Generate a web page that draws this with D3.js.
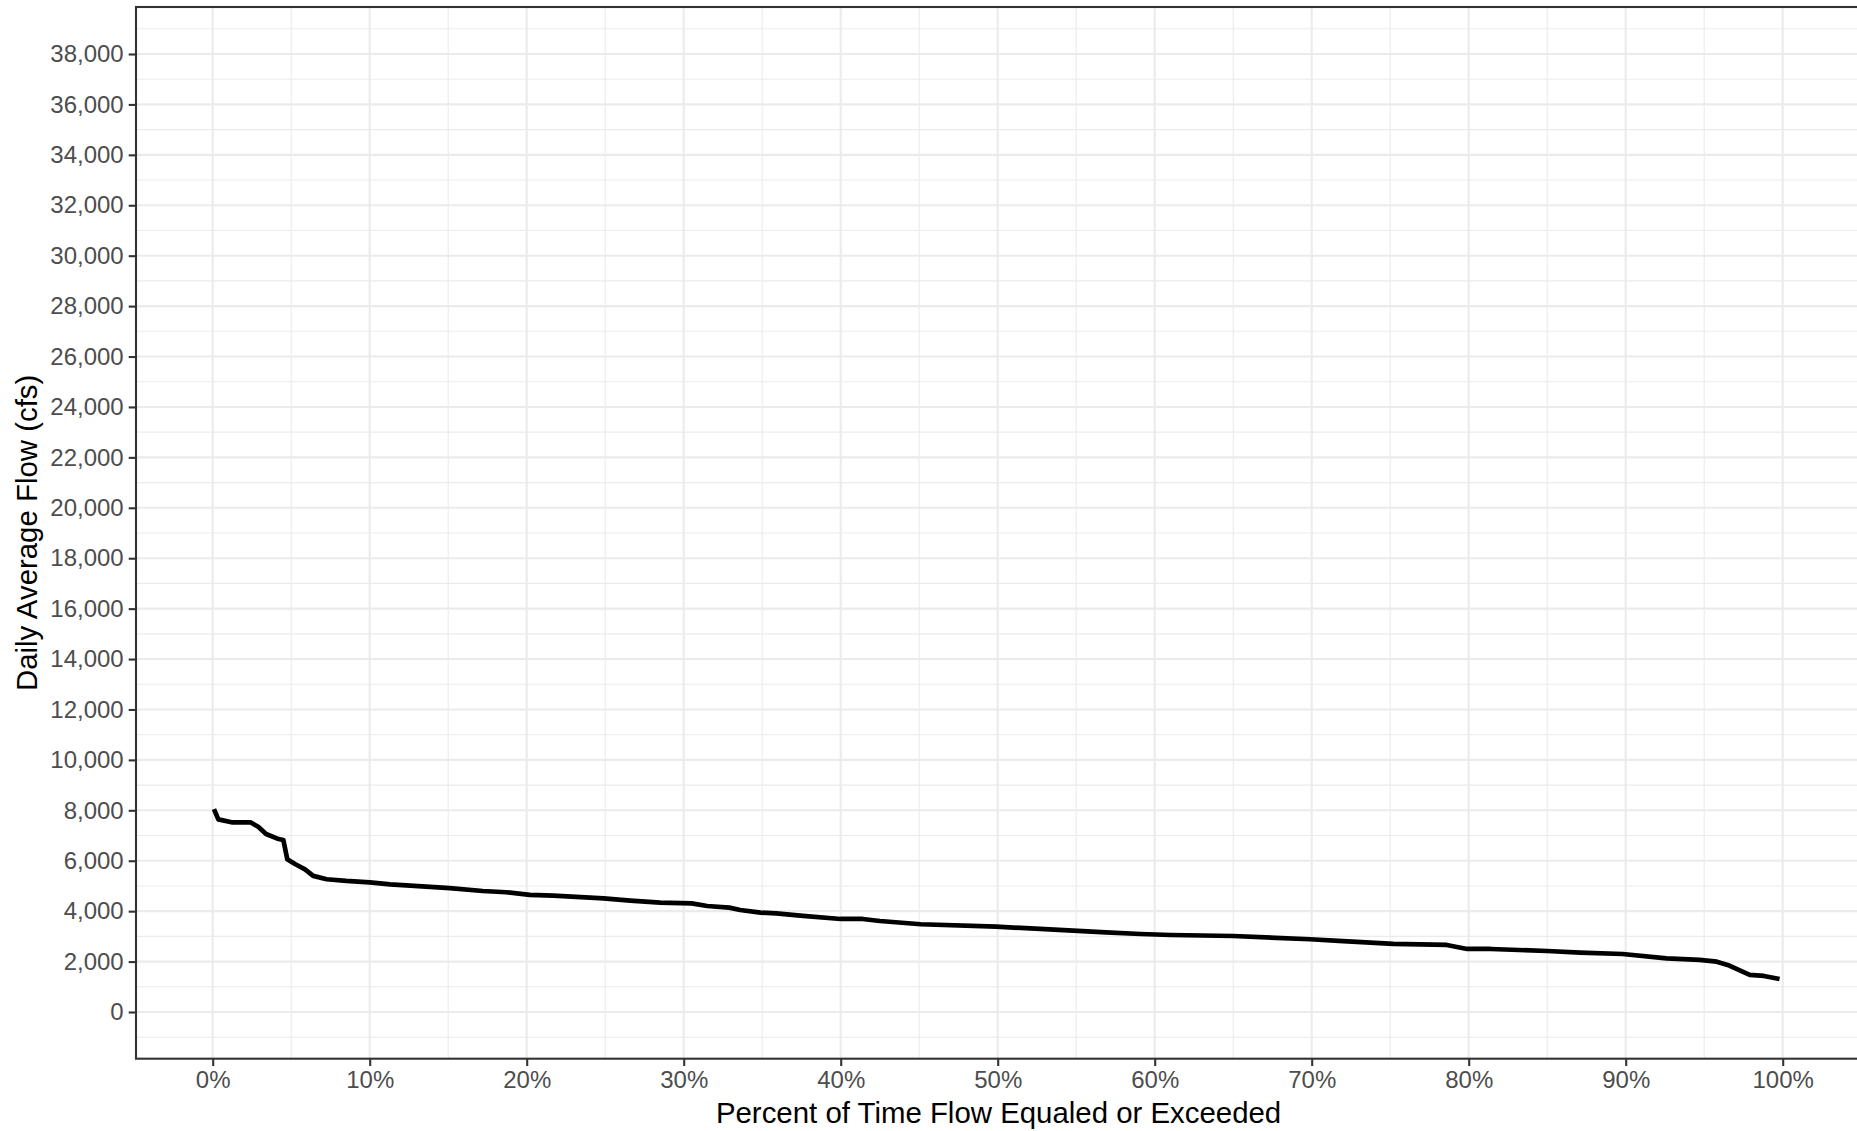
<!DOCTYPE html>
<html>
<head>
<meta charset="utf-8">
<script src="https://cdn.jsdelivr.net/npm/d3@7"></script>
<style>
  body { margin: 0; background: #fff; }
  svg { display: block; font-family: "Liberation Sans", Arial, sans-serif; }
</style>
</head>
<body>
<div id="chart"></div>
<script>
const WIDTH = 1857;
const HEIGHT = 1131;

// flow duration curve
const pctExceeded = [0.08, 0.36, 1.2, 2.4, 2.9, 3.4, 4.2, 4.5, 4.75, 5.24, 5.88, 6.4, 7.26, 8.5, 10.0,
    11.3, 13.6, 15.1, 17.2, 18.7, 20.2, 21.7, 24.9, 26.6, 28.5, 30.5, 31.5, 32.9, 33.6, 34.9,
    35.9, 37.6, 40.0, 41.4, 42.5, 45.1, 49.9, 52.7, 54.8, 56.9, 59.1, 61.0, 65.0, 69.9, 72.0,
    75.2, 78.6, 79.9, 81.4, 85.0, 87.1, 89.8, 92.6, 94.7, 95.8, 96.6, 97.9, 98.8, 99.8];
const flowCfs = [8050, 7640, 7525, 7525, 7350, 7060, 6860, 6820, 6060, 5870, 5660, 5400, 5265, 5200, 5145,
    5065, 4970, 4910, 4800, 4750, 4645, 4615, 4510, 4415, 4335, 4310, 4205, 4140, 4045, 3940,
    3915, 3810, 3690, 3690, 3610, 3480, 3385, 3295, 3225, 3160, 3095, 3055, 3015, 2885, 2815,
    2700, 2660, 2500, 2500, 2420, 2355, 2300, 2130, 2065, 1995, 1840, 1470, 1430, 1310];

const xMajor = d3.range(0, 101, 10);
const xMinor = d3.range(5, 100, 10);
const yMajor = d3.range(0, 38001, 2000);
const yMinor = d3.range(-1000, 39001, 2000);

const data = pctExceeded.map((p, i) => ({ p: p, q: flowCfs[i] }));

const svg = d3.select("#chart").append("svg")
    .attr("width", WIDTH).attr("height", HEIGHT);

const x = d3.scaleLinear().domain([0, 100]).range([212.7, 1782.7]);
const y = d3.scaleLinear().domain([0, 38000]).range([1012, 54]);

const panel = { left: 136, top: 7, right: x(104.995), bottom: 1058.7 };

const grid = svg.append("g");
grid.selectAll(".ymin").data(yMinor).join("line")
    .attr("x1", panel.left).attr("x2", panel.right)
    .attr("y1", d => y(d)).attr("y2", d => y(d))
    .attr("stroke", "#EBEBEB").attr("stroke-width", 1.1);
grid.selectAll(".xmin").data(xMinor).join("line")
    .attr("y1", panel.top).attr("y2", panel.bottom)
    .attr("x1", d => x(d)).attr("x2", d => x(d))
    .attr("stroke", "#EBEBEB").attr("stroke-width", 1.1);
grid.selectAll(".ymaj").data(yMajor).join("line")
    .attr("x1", panel.left).attr("x2", panel.right)
    .attr("y1", d => y(d)).attr("y2", d => y(d))
    .attr("stroke", "#EBEBEB").attr("stroke-width", 2.1);
grid.selectAll(".xmaj").data(xMajor).join("line")
    .attr("y1", panel.top).attr("y2", panel.bottom)
    .attr("x1", d => x(d)).attr("x2", d => x(d))
    .attr("stroke", "#EBEBEB").attr("stroke-width", 2.1);

// the curve
svg.append("path")
    .datum(data)
    .attr("fill", "none")
    .attr("stroke", "#000")
    .attr("stroke-width", 4.7)
    .attr("stroke-linejoin", "round")
    .attr("d", d3.line().x(d => x(d.p)).y(d => y(d.q)));

// panel border
svg.append("rect")
    .attr("x", panel.left).attr("y", panel.top)
    .attr("width", panel.right - panel.left).attr("height", panel.bottom - panel.top)
    .attr("fill", "none").attr("stroke", "#333333").attr("stroke-width", 2.1);

// axes
const xAxis = d3.axisBottom(x).tickValues(xMajor).tickSize(7.3).tickPadding(5)
    .tickFormat(d => d + "%");
const xAxisG = svg.append("g")
    .attr("transform", `translate(0, ${panel.bottom})`)
    .call(xAxis);

const yAxis = d3.axisLeft(y).tickValues(yMajor).tickSize(7.3).tickPadding(5)
    .tickFormat(d3.format(","));
const yAxisG = svg.append("g")
    .attr("transform", `translate(${panel.left}, 0)`)
    .call(yAxis);

[xAxisG, yAxisG].forEach(g => {
    g.select(".domain").remove();
    g.selectAll("line").attr("stroke", "#333333").attr("stroke-width", 2.1);
    g.selectAll("text")
        .attr("fill", "#4D4D4D")
        .attr("font-size", 24)
        .attr("font-family", "Liberation Sans, Arial, sans-serif");
});

svg.append("text")
    .text("Percent of Time Flow Equaled or Exceeded")
    .attr("x", (panel.left + panel.right) / 2)
    .attr("y", 1122.5)
    .attr("text-anchor", "middle")
    .attr("font-size", 29.4)
    .attr("fill", "#000");

svg.append("text")
    .text("Daily Average Flow (cfs)")
    .attr("transform", `translate(37, ${(panel.top + panel.bottom) / 2}) rotate(-90)`)
    .attr("text-anchor", "middle")
    .attr("font-size", 29.4)
    .attr("fill", "#000");
</script>
</body>
</html>
